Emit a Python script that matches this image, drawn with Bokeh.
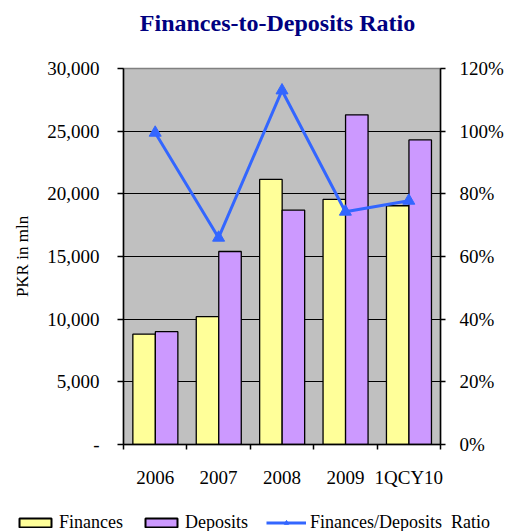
from bokeh.plotting import figure
from bokeh.models import (ColumnDataSource, Range1d, LinearAxis, FixedTicker, Label,
                          NumeralTickFormatter, PrintfTickFormatter, Legend, LegendItem)
from bokeh.transform import dodge
from bokeh.embed import file_html
from bokeh.resources import INLINE

categories = ["2006", "2007", "2008", "2009", "1QCY10"]
finances = [8800, 10200, 21150, 19550, 19050]
deposits = [9000, 15400, 18700, 26300, 24300]
ratio_pct = [99.5, 66, 113, 74.3, 77.8]
left_ticks = [0, 5000, 10000, 15000, 20000, 25000, 30000]
right_ticks = [0, 20, 40, 60, 80, 100, 120]
title_text = "Finances-to-Deposits Ratio"
series_names = ["Finances", "Deposits", "Finances/Deposits  Ratio"]

FONT = "Liberation Serif"
FIN_COLOR = "#FFFF99"
DEP_COLOR = "#CC99FF"
LINE_COLOR = "#3366FF"

xpos = [i + 0.5 for i in range(len(categories))]
src = ColumnDataSource(dict(x=xpos, fin=finances, dep=deposits, ratio=ratio_pct))


def blank_figure(h):
    f = figure(width=507, height=h, output_backend="svg", toolbar_location=None, title=None,
               x_range=Range1d(0, 1), y_range=Range1d(0, 1),
               x_axis_location=None, y_axis_location=None,
               min_border=0, min_border_left=0, min_border_right=0,
               min_border_top=0, min_border_bottom=0)
    f.outline_line_color = None
    f.xgrid.visible = False
    f.ygrid.visible = False
    return f


# ---- title strip
tfig = blank_figure(45)
tfig.add_layout(Label(x=277, y=23, x_units="screen", y_units="screen", text=title_text,
                      text_font=FONT, text_font_size="24px", text_font_style="bold",
                      text_color="#000080", text_align="center", text_baseline="middle"))

# ---- main chart
p = figure(frame_width=317, frame_height=376, output_backend="svg", toolbar_location=None,
           title=None, x_range=Range1d(0, len(categories)), y_range=Range1d(0, 30000),
           min_border_left=123, min_border_right=67, min_border_top=23, min_border_bottom=55)
p.extra_y_ranges = {"pct": Range1d(0, 120)}

p.background_fill_color = "#C0C0C0"
p.border_fill_color = "white"
p.outline_line_color = "#808080"
p.outline_line_width = 1.5

p.vbar(x=dodge("x", -0.175, range=p.x_range), top="fin", width=0.355, source=src,
       fill_color=FIN_COLOR, line_color="black", line_width=1.3)
p.vbar(x=dodge("x", 0.18, range=p.x_range), top="dep", width=0.355, source=src,
       fill_color=DEP_COLOR, line_color="black", line_width=1.3)
p.line(x="x", y="ratio", source=src, y_range_name="pct", line_color=LINE_COLOR, line_width=3)
p.scatter(x="x", y="ratio", source=src, y_range_name="pct", marker="triangle",
          size=12, fill_color=LINE_COLOR, line_color=LINE_COLOR)

# x axis
xa = p.xaxis[0]
xa.ticker = FixedTicker(ticks=xpos, minor_ticks=list(range(len(categories) + 1)))
xa.major_label_overrides = {x: c for x, c in zip(xpos, categories)}
xa.major_tick_out = 0
xa.major_tick_in = 0
xa.minor_tick_out = 5
xa.minor_tick_in = 0
xa.minor_tick_line_color = "black"
xa.minor_tick_line_width = 1.5
xa.axis_line_color = "black"
xa.axis_line_width = 1.5
xa.major_label_text_font = FONT
xa.major_label_text_font_size = "19px"
xa.major_label_text_color = "black"
xa.major_label_standoff = 17

# left axis
ya = p.yaxis[0]
ya.ticker = FixedTicker(ticks=left_ticks)
ya.formatter = NumeralTickFormatter(format="0,0")
ya.major_label_overrides = {0: "-"}
ya.minor_tick_line_color = None
ya.major_tick_out = 6
ya.major_tick_in = 0
ya.major_tick_line_width = 1.5
ya.axis_line_width = 1.5
ya.axis_line_color = "black"
ya.major_label_text_font = FONT
ya.major_label_text_font_size = "19px"
ya.major_label_text_color = "black"
ya.major_label_standoff = 18
ya.axis_label = "PKR in mln"
ya.axis_label_text_font = FONT
ya.axis_label_text_font_size = "17px"
ya.axis_label_text_font_style = "normal"
ya.axis_label_text_color = "black"
ya.axis_label_standoff = 12

# right axis
ra = LinearAxis(y_range_name="pct", ticker=FixedTicker(ticks=right_ticks),
                formatter=PrintfTickFormatter(format="%d%%"))
ra.minor_tick_line_color = None
ra.major_tick_out = 5
ra.major_tick_in = 0
ra.major_tick_line_width = 1.5
ra.axis_line_width = 1.5
ra.axis_line_color = "black"
ra.major_label_text_font = FONT
ra.major_label_text_font_size = "19px"
ra.major_label_text_color = "black"
ra.major_label_standoff = 14
p.add_layout(ra, "right")

p.xgrid.grid_line_color = None
p.ygrid.ticker = FixedTicker(ticks=left_ticks)
p.ygrid.grid_line_color = "black"
p.ygrid.grid_line_width = 1

# ---- legend strip: hidden proxies styled like the chart's series
lfig = blank_figure(32)
l_fin = lfig.vbar(x="x", top="fin", width=0.355, source=src, fill_color=FIN_COLOR,
                  line_color="black", line_width=2, visible=False)
l_dep = lfig.vbar(x="x", top="dep", width=0.355, source=src, fill_color=DEP_COLOR,
                  line_color="black", line_width=2, visible=False)
l_line = lfig.line(x="x", y="ratio", source=src, line_color=LINE_COLOR, line_width=3, visible=False)
l_pts = lfig.scatter(x="x", y="ratio", source=src, marker="triangle", size=13,
                     fill_color=LINE_COLOR, line_color=LINE_COLOR, visible=False)
legend = Legend(items=[LegendItem(label=series_names[0], renderers=[l_fin]),
                       LegendItem(label=series_names[1], renderers=[l_dep]),
                       LegendItem(label=series_names[2], renderers=[l_line, l_pts])],
                orientation="horizontal", location=(15, -2),
                glyph_width=40, glyph_height=11, label_standoff=4, spacing=18,
                padding=0, margin=0, background_fill_alpha=0, border_line_color=None,
                label_text_font=FONT, label_text_font_size="18px", label_text_color="black")
lfig.add_layout(legend, "center")

open("out.html", "w").write(file_html([tfig, p, lfig], INLINE))
